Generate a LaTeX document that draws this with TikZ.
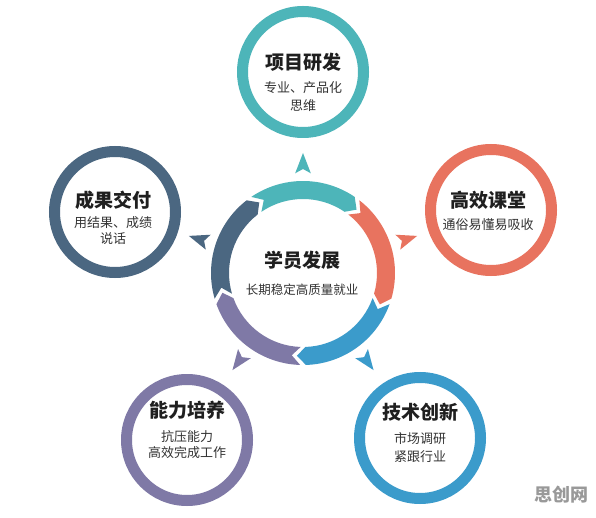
\documentclass[tikz,border=0pt]{standalone}
\usepackage{fontspec}
\setmainfont{Noto Sans CJK SC}
\definecolor{cteal}{HTML}{4DB5B9}
\definecolor{corange}{HTML}{E8735F}
\definecolor{cblue}{HTML}{3B9BCB}
\definecolor{cpurple}{HTML}{7F79A6}
\definecolor{cslate}{HTML}{4B6781}
\definecolor{ctitle}{HTML}{1F1F1F}
\definecolor{csub}{HTML}{333333}
\newcommand\ringseg[2]{%
  \pgfmathsetmacro\tA{#1+36-1.8}%
  \pgfmathsetmacro\hA{#1-36+1.8}%
  \pgfmathsetmacro\hT{\hA-6}%
  \pgfmathsetmacro\tN{\tA-6}%
  \fill[#2] (\tA:92) arc[start angle=\tA, end angle=\hA, radius=92] -- (\hT:83) -- (\hA:74)
    arc[start angle=\hA, end angle=\tA, radius=74] -- (\tN:83) -- cycle;
}
\newcommand\navtri[2]{%
  \pgfmathsetmacro\wA{#1+4.5}%
  \pgfmathsetmacro\wB{#1-4.5}%
  \fill[#2] (#1:120) -- (\wA:100) -- (#1:104) -- (\wB:100) -- cycle;
}
\tikzset{
  sat/.style={circle, fill=white, line width=11pt, minimum size=121pt, inner sep=0pt},
  ttl/.style={font=\fontsize{19}{22}\selectfont\bfseries, text=ctitle, inner sep=0pt},
  sub/.style={font=\fontsize{13}{15}\selectfont, text=csub, inner sep=0pt},
}
\begin{document}
\begin{tikzpicture}[x=1pt,y=1pt]
\useasboundingbox (0,0) rectangle (596,517);
\fill[white] (0,0) rectangle (596,517);
% central ring
\begin{scope}[shift={(303,244)}]
  \ringseg{90}{cteal}
  \ringseg{18}{corange}
  \ringseg{-54}{cblue}
  \ringseg{-126}{cpurple}
  \ringseg{162}{cslate}
  \navtri{90}{cteal}
  \navtri{18}{corange}
  \navtri{-54}{cblue}
  \navtri{-126}{cpurple}
  \navtri{162}{cslate}
\end{scope}
\node[ttl] (ct) at (302,257) {学员发展};
\node[sub, font=\fontsize{12.5}{15}\selectfont] (cs) at (302,227) {长期稳定高质量就业};
% satellites
\node[sat, draw=cteal] (s1) at (303,445) {};
\node[sat, draw=corange] (s2) at (491,307) {};
\node[sat, draw=cslate] (s5) at (115,305) {};
\node[sat, draw=cpurple] (s4) at (187,77) {};
\node[sat, draw=cblue] (s3) at (420,79) {};
% satellite texts
\node[ttl] (t1) at (303,455) {项目研发};
\node[sub] (a1) at (303,429) {专业、产品化};
\node[sub] (b1) at (303,411) {思维};
\node[ttl] (t2) at (488,317) {高效课堂};
\node[sub] (a2) at (488,292) {通俗易懂易吸收};
\node[ttl] (t5) at (113,317) {成果交付};
\node[sub] (a5) at (113,294) {用结果、成绩};
\node[sub] (b5) at (113,278) {说话};
\node[ttl] (t4) at (187,107) {能力培养};
\node[sub] (a4) at (187,80) {抗压能力};
\node[sub] (b4) at (187,64) {高效完成工作};
\node[ttl] (t3) at (420,105) {技术创新};
\node[sub] (a3) at (420,78) {市场调研};
\node[sub] (b3) at (420,60) {紧跟行业};
% watermark
\node[font=\fontsize{18}{20}\selectfont\bfseries, text=black!40, inner sep=0pt] (wm) at (561,22) {思创网};
\end{tikzpicture}
\end{document}
